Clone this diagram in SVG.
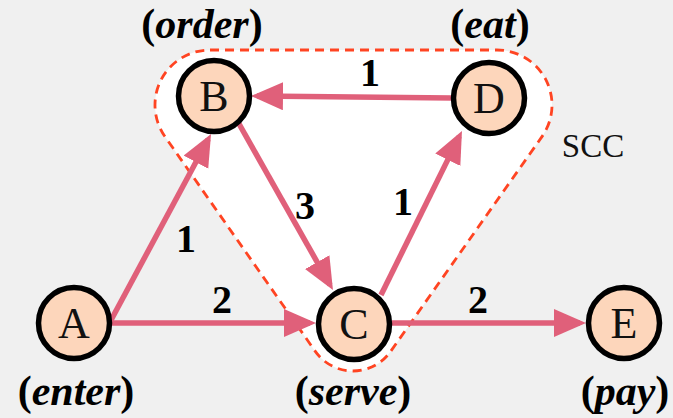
<svg xmlns="http://www.w3.org/2000/svg" width="673" height="418" viewBox="0 0 673 418">
<defs>
<marker id="ah" markerUnits="userSpaceOnUse" markerWidth="34" markerHeight="30" refX="26" refY="14" orient="auto">
<path d="M0,0 L32,14 L0,28 z" fill="#e0607a"/>
</marker>
<style>
text{font-family:"Liberation Serif","Times New Roman",Times,serif}
.node circle{fill:#fdd6bb;stroke:#000;stroke-width:5.5}
.node text{font-size:44px;fill:#111;text-anchor:middle}
.cap{font-size:42px;font-weight:bold;fill:#000;text-anchor:middle}
.i{font-style:italic}
.edge{stroke:#e0607a;stroke-width:5.5;fill:none;marker-end:url(#ah)}
.w{font-size:40px;font-weight:bold;fill:#000;text-anchor:middle}
.scc{font-size:33px;fill:#111;text-anchor:middle}
</style>
</defs>
<rect width="673" height="418" fill="#f0f0f0"/>
<g id="scc">
<path d="M 210 50 L 497 50 A 55 55 0 0 1 541.97 136.68 L 390.6 351.5 A 46 46 0 0 1 315.3 351.4 L 164.9 136.5 A 55 55 0 0 1 210 50 Z" fill="#fff" stroke="#ff4422" stroke-width="2.8" stroke-dasharray="9,6"/>
<text class="scc" x="593" y="157">SCC</text>
</g>
<g id="connectors">
<path class="edge" d="M110,322 L208.2,139.3"/>
<path class="edge" d="M110,323 L310,323"/>
<path class="edge" d="M238,122 L330,284.8"/>
<path class="edge" d="M452,98 L257,96"/>
<path class="edge" d="M381,295 L459.3,136.4"/>
<path class="edge" d="M392,323 L580,323"/>
<text class="w" x="186" y="252">1</text>
<text class="w" x="222" y="313">2</text>
<text class="w" x="305" y="219">3</text>
<text class="w" x="370" y="86">1</text>
<text class="w" x="403" y="215">1</text>
<text class="w" x="478" y="313">2</text>
</g>
<g id="A" class="node"><circle cx="74" cy="323" r="35.5"/><text x="74" y="338">A</text></g>
<g id="B" class="node"><circle cx="214" cy="96" r="35.5"/><text x="214" y="111">B</text></g>
<g id="C" class="node"><circle cx="354" cy="324" r="35.5"/><text x="354" y="339">C</text></g>
<g id="D" class="node"><circle cx="489" cy="98" r="35.5"/><text x="489" y="113">D</text></g>
<g id="E" class="node"><circle cx="624" cy="323" r="35.5"/><text x="624" y="338">E</text></g>
<text class="cap" x="202" y="38">(<tspan class="i">order</tspan>)</text>
<text class="cap" x="490" y="38">(<tspan class="i">eat</tspan>)</text>
<text class="cap" x="76" y="405">(<tspan class="i">enter</tspan>)</text>
<text class="cap" x="353" y="405">(<tspan class="i">serve</tspan>)</text>
<text class="cap" x="625" y="405">(<tspan class="i">pay</tspan>)</text>
</svg>
